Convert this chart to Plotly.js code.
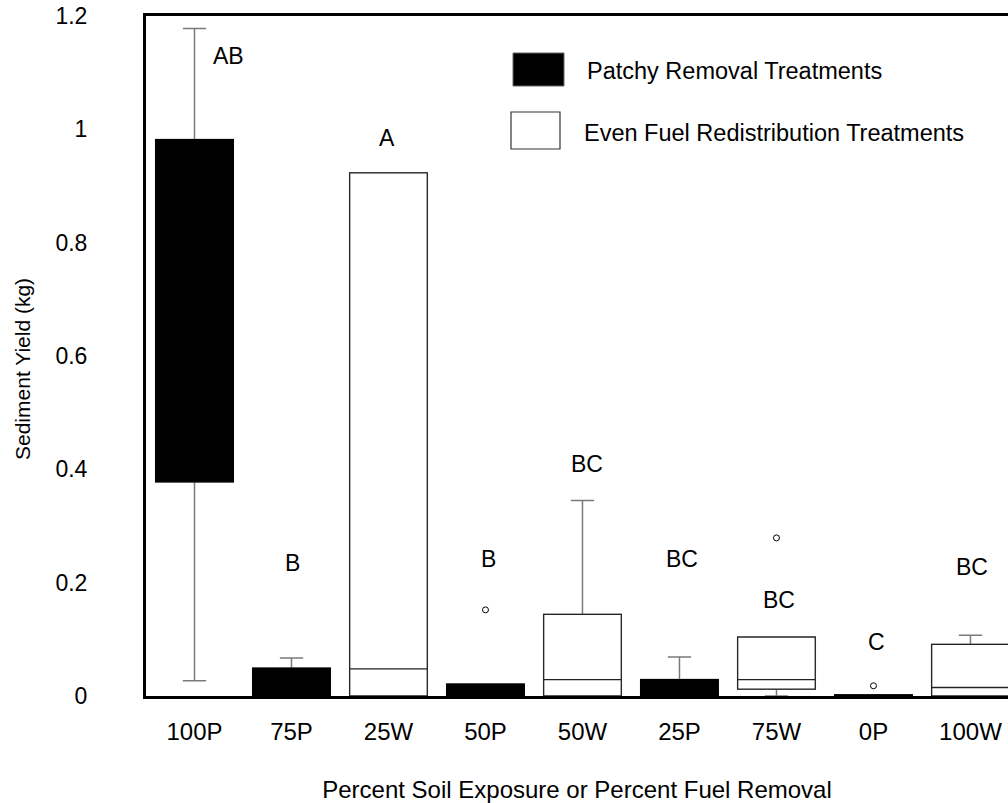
<!DOCTYPE html>
<html>
<head>
<meta charset="utf-8">
<script src="https://cdn.plot.ly/plotly-3.0.1.min.js"></script>
<style>html,body{margin:0;padding:0;background:#fff;}#chart{width:1008px;height:803px;}</style>
</head>
<body>
<div id="chart"></div>
<script>
// Category order on the x axis
var categories = ["100P", "75P", "25W", "50P", "50W", "25P", "75W", "0P", "100W"];

// Patchy removal treatments (black boxes)
var patchyCats   = ["100P", "75P", "50P", "25P", "0P"];
var patchyLower  = [0.027, 0.0,   0.0,   0.0,   0.0];
var patchyQ1     = [0.378, 0.0,   0.0,   0.0,   0.0];
var patchyMedian = [0.75,  0.02,  0.01,  0.012, 0.001];
var patchyQ3     = [0.982, 0.049, 0.021, 0.029, 0.002];
var patchyUpper  = [1.178, 0.067, 0.021, 0.069, 0.002];

// Even fuel redistribution treatments (white boxes)
var evenCats   = ["25W", "50W", "75W", "100W"];
var evenLower  = [0.0,   0.0,   0.0,   0.0];
var evenQ1     = [0.0,   0.0,   0.012, 0.0];
var evenMedian = [0.048, 0.029, 0.029, 0.015];
var evenQ3     = [0.923, 0.144, 0.104, 0.091];
var evenUpper  = [0.923, 0.345, 0.104, 0.107];

// Outliers
var outlierCats   = ["50P", "75W", "0P"];
var outlierValues = [0.152, 0.279, 0.018];

// Significance letters
var letterText = ["AB", "B", "A", "B", "BC", "BC", "BC", "C", "BC"];
var letterY    = [1.129, 0.234, 0.984, 0.242, 0.41, 0.241, 0.169, 0.095, 0.228];
var letterDX   = [0.35, 0.01, -0.015, 0.03, 0.05, 0.03, 0.03, 0.03, 0.02];

var FONT = "Liberation Sans, Arial, sans-serif";

function whiskerTrace(x, lo, q1, med, q3, hi) {
  return {
    type: "box", x: x, lowerfence: lo, q1: q1, median: med, q3: q3, upperfence: hi,
    boxpoints: false, width: 0.8, whiskerwidth: 0.3,
    line: {color: "#7a7a7a", width: 1.5}, fillcolor: "rgba(0,0,0,0)",
    hoverinfo: "skip", showlegend: false
  };
}
function boxTrace(name, x, q1, med, q3, fill, lineColor) {
  return {
    type: "box", name: name, x: x, lowerfence: q1, q1: q1, median: med, q3: q3, upperfence: q3,
    boxpoints: false, width: 0.8, whiskerwidth: 0,
    line: {color: lineColor, width: 1.3}, fillcolor: fill, showlegend: false
  };
}

var traces = [
  whiskerTrace(patchyCats, patchyLower, patchyQ1, patchyMedian, patchyQ3, patchyUpper),
  whiskerTrace(evenCats, evenLower, evenQ1, evenMedian, evenQ3, evenUpper),
  boxTrace("Patchy Removal Treatments", patchyCats, patchyQ1, patchyMedian, patchyQ3, "#000000", "#000000"),
  boxTrace("Even Fuel Redistribution Treatments", evenCats, evenQ1, evenMedian, evenQ3, "#ffffff", "#222222"),
  {
    type: "scatter", mode: "markers", x: outlierCats, y: outlierValues,
    marker: {symbol: "circle-open", size: 6, color: "#000", line: {width: 1, color: "#000"}},
    showlegend: false, hoverinfo: "x+y"
  }
];

var annotations = [];
for (var i = 0; i < categories.length; i++) {
  annotations.push({
    x: i + letterDX[i], y: letterY[i], xref: "x", yref: "y",
    text: letterText[i], showarrow: false,
    font: {family: FONT, size: 23, color: "#000"}
  });
}
// Legend (drawn manually to match the large swatches)
var L = 146, W = 862, B = 696, H = 680;
function px(x) { return (x - L) / W; }
function py(y) { return (B - y) / H; }
annotations.push({xref: "paper", yref: "paper", x: px(585), y: py(71), xanchor: "left", yanchor: "middle",
  text: "Patchy Removal Treatments", showarrow: false, font: {family: FONT, size: 23.5, color: "#000"}});
annotations.push({xref: "paper", yref: "paper", x: px(582), y: py(133), xanchor: "left", yanchor: "middle",
  text: "Even Fuel Redistribution Treatments", showarrow: false, font: {family: FONT, size: 23.5, color: "#000"}});
// y-axis title
annotations.push({xref: "paper", yref: "paper", x: px(23), y: py(369), xanchor: "center", yanchor: "middle",
  textangle: -90, text: "Sediment Yield (kg)", showarrow: false, font: {family: FONT, size: 21, color: "#000"}});

var shapes = [
  {type: "rect", xref: "paper", yref: "paper", x0: px(513), x1: px(564), y0: py(86), y1: py(53),
   fillcolor: "#000", line: {color: "#666", width: 1}},
  {type: "rect", xref: "paper", yref: "paper", x0: px(511), x1: px(560), y0: py(149), y1: py(112),
   fillcolor: "#fff", line: {color: "#333", width: 1.2}}
];

var layout = {
  width: 1008, height: 803,
  margin: {l: 146, r: 0, t: 16, b: 107},
  paper_bgcolor: "#fff", plot_bgcolor: "#fff",
  boxmode: "overlay",
  font: {family: FONT, size: 22, color: "#000"},
  xaxis: {
    type: "category", categoryorder: "array", categoryarray: categories,
    range: [-0.5, 8.387],
    showline: true, linecolor: "#000", linewidth: 3, mirror: true,
    showgrid: false, zeroline: false, ticks: "",
    ticklabelstandoff: 12,
    tickfont: {family: FONT, size: 24, color: "#000"},
    title: {text: "Percent Soil Exposure or Percent Fuel Removal", standoff: 40,
            font: {family: FONT, size: 24, color: "#000"}},
    automargin: false, fixedrange: true
  },
  yaxis: {
    range: [0, 1.2],
    tickvals: [0, 0.2, 0.4, 0.6, 0.8, 1, 1.2],
    showline: true, linecolor: "#000", linewidth: 3, mirror: false,
    showgrid: false, zeroline: false, ticks: "",
    ticklabelstandoff: 51,
    tickfont: {family: FONT, size: 23, color: "#000"},
    automargin: false, fixedrange: true
  },
  annotations: annotations,
  shapes: shapes,
  showlegend: false
};

Plotly.newPlot("chart", traces, layout, {displayModeBar: false, staticPlot: true});
</script>
</body>
</html>
